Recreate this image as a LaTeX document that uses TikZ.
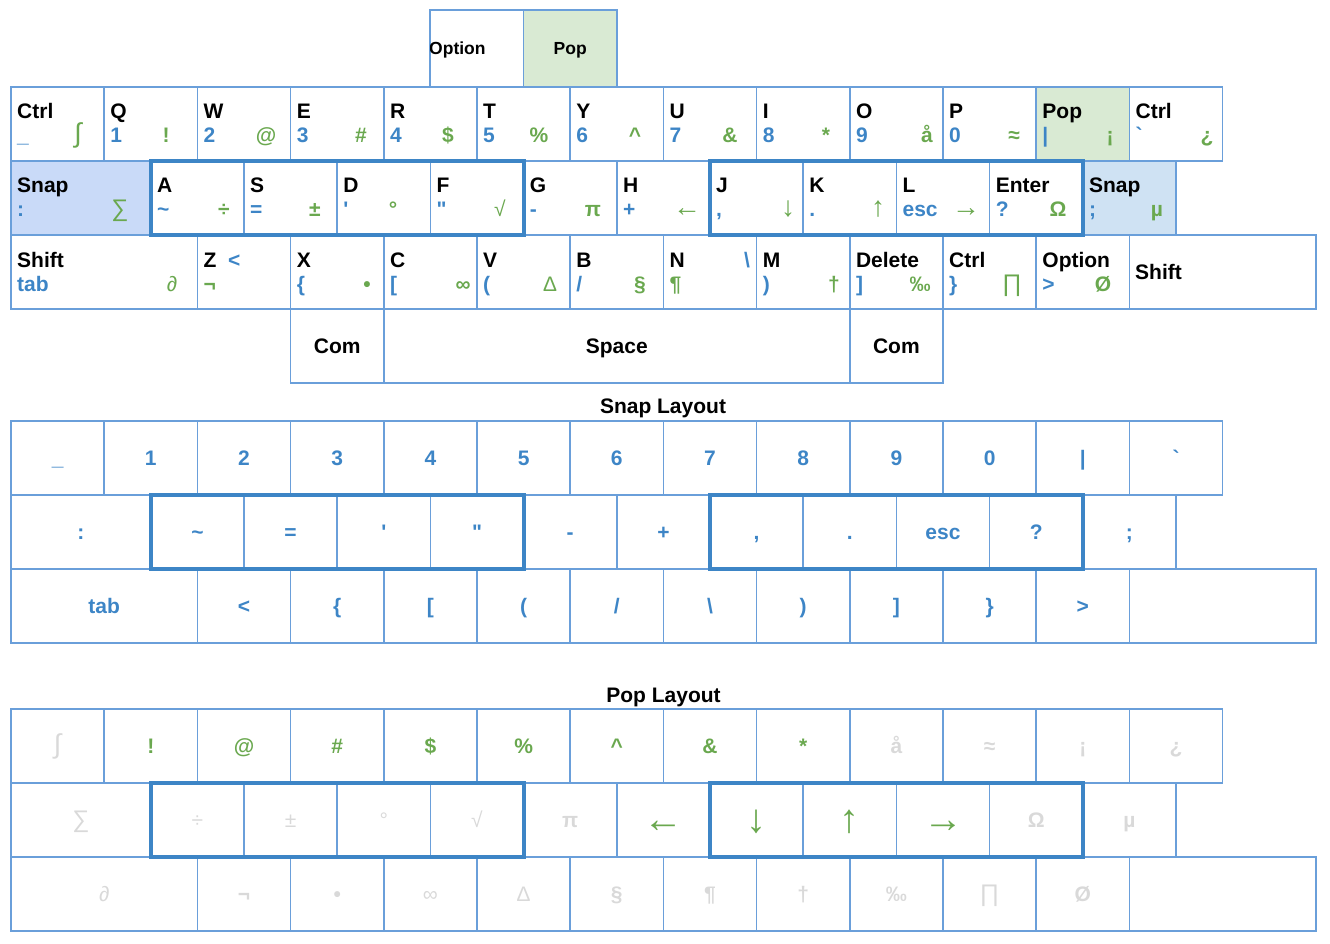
\documentclass[tikz,border=0pt]{standalone}
\usepackage{fontspec}
\setmainfont{Liberation Sans}[Ligatures=TeXOff]
\definecolor{kline}{HTML}{6A9FDA}
\definecolor{kframe}{HTML}{3D85C6}
\definecolor{kblue}{HTML}{3D85C6}
\definecolor{kgreen}{HTML}{6AA84F}
\definecolor{kgrey}{HTML}{D9D9D9}
\definecolor{popfill}{HTML}{D9EAD3}
\definecolor{snapA}{HTML}{C9DAF8}
\definecolor{snapB}{HTML}{CFE2F3}
\newcommand\lblfont{\bfseries\fontsize{21}{21}\selectfont}
\newcommand\smallfont{\bfseries\fontsize{17.5}{17.5}\selectfont}
\newcommand\arrowfont{\mdseries\fontsize{40}{40}\selectfont}
\newcommand\keyarrow{\mdseries\fontsize{28}{28}\selectfont}
\newcommand\bigint{\mdseries\fontsize{27}{27}\selectfont}
\tikzset{
  keybox/.style={draw=kline, line width=1.5pt, rectangle, inner sep=0pt, minimum height=74pt},
  mainlbl/.style={anchor=base west, inner sep=0pt, font=\lblfont, text=black},
  bluelbl/.style={anchor=base west, inner sep=0pt, font=\lblfont, text=kblue},
  greenlbl/.style={anchor=base, inner sep=0pt, font=\lblfont, text=kgreen},
  hlframe/.style={draw=kframe, line width=4pt, rectangle, inner sep=0pt, minimum height=74pt, minimum width=372.8pt},
  titlelbl/.style={anchor=base, inner sep=0pt, font=\lblfont, text=black},
  sn/.style={text=kblue},
  pg/.style={text=kgreen},
  pz/.style={text=kgrey},
  parrow/.style={text=kgreen, text height=24pt},
}
% top keyboard key: name, x, y0, width, options, main, blue, green, green centre x
\newcommand\tk[9]{%
  \node[keybox,minimum width=#4pt,#5] (#1) at ({#2+#4/2},{#3+37}) {};
  \node[mainlbl] (#1m) at ({#2+6},{#3+32}) {#6};
  \node[bluelbl] (#1b) at ({#2+6},{#3+56}) {#7};
  \node[greenlbl] (#1g) at (#9,{#3+56}) {#8};}
% layout key with centred text: name, x, y0, width, options, text
\newcommand\lc[6]{%
  \node[keybox,minimum width=#4pt,font=\lblfont,text height=15pt,text depth=0pt,#5] (#1) at ({#2+#4/2},{#3+37}) {#6};}
\begin{document}
\begin{tikzpicture}[x=1pt,y=-1pt]
\useasboundingbox (0,0) rectangle (1330,944);

% ---------- top small row ----------
\node[keybox,minimum width=93.2pt,minimum height=77pt] (topopt) at (477,48.5) {};
\node[anchor=base west,inner sep=0pt,font=\smallfont] (topoptl) at (429,55) {Option};
\node[keybox,minimum width=93.2pt,minimum height=77pt,fill=popfill] (toppop) at (570.2,48.5) {};
\node[anchor=base,inner sep=0pt,font=\smallfont] (toppopl) at (570.2,55) {Pop};
\draw[kline,line width=1.5pt] (topopt.north west) -- (topopt.south west);

% ---------- keyboard row 1 ----------
\tk{qa}{11}{87}{93.2}{}{Ctrl}{\_}{\bigint ∫}{78}
\tk{qb}{104.2}{87}{93.2}{}{Q}{1}{!}{166}
\tk{qc}{197.4}{87}{93.2}{}{W}{2}{@}{266}
\tk{qd}{290.6}{87}{93.2}{}{E}{3}{\#}{361}
\tk{qe}{383.8}{87}{93.2}{}{R}{4}{\$}{448}
\tk{qf}{477}{87}{93.2}{}{T}{5}{\%}{539}
\tk{qg}{570.2}{87}{93.2}{}{Y}{6}{\textasciicircum}{635}
\tk{qh}{663.4}{87}{93.2}{}{U}{7}{\&}{730}
\tk{qi}{756.6}{87}{93.2}{}{I}{8}{*}{826}
\tk{qj}{849.8}{87}{93.2}{}{O}{9}{å}{927}
\tk{qk}{943}{87}{93.2}{}{P}{0}{≈}{1014}
\tk{ql}{1036.2}{87}{93.2}{fill=popfill}{Pop}{|}{¡}{1110}
\tk{qm}{1129.4}{87}{93.2}{}{Ctrl}{`}{¿}{1207}

% ---------- keyboard row 2 ----------
\tk{aa}{11}{161}{139.8}{fill=snapA}{Snap}{:}{\mdseries\fontsize{24}{24}\selectfont ∑}{120}
\tk{ab}{150.8}{161}{93.2}{}{A}{\textasciitilde}{÷}{224}
\tk{ac}{244}{161}{93.2}{}{S}{=}{±}{315}
\tk{ad}{337.2}{161}{93.2}{}{D}{'}{°}{393}
\tk{ae}{430.4}{161}{93.2}{}{F}{"}{\mdseries √}{500}
\tk{af}{523.6}{161}{93.2}{}{G}{-}{π}{593}
\tk{ag}{616.8}{161}{93.2}{}{H}{+}{\keyarrow ←}{687}
\tk{ah}{710}{161}{93.2}{}{J}{,}{\keyarrow ↓}{788}
\tk{ai}{803.2}{161}{93.2}{}{K}{.}{\keyarrow ↑}{878}
\tk{aj}{896.4}{161}{93.2}{}{L}{esc}{\keyarrow →}{966}
\tk{ak}{989.6}{161}{93.2}{}{Enter}{?}{Ω}{1058}
\tk{al}{1082.8}{161}{93.2}{fill=snapB}{Snap}{;}{µ}{1157}

% ---------- keyboard row 3 ----------
\tk{za}{11}{235}{186.4}{}{Shift}{tab}{\mdseries ∂}{172}
\node[keybox,minimum width=93.2pt] (zb) at (244,272) {};
\node[mainlbl] (zbm) at (203.4,267) {Z};
\node[bluelbl] (zbb) at (228,267) {<};
\node[anchor=base west,inner sep=0pt,font=\lblfont,text=kgreen] (zbg) at (203.4,291) {¬};
\tk{zc}{290.6}{235}{93.2}{}{X}{\{}{•}{367}
\tk{zd}{383.8}{235}{93.2}{}{C}{[}{∞}{463}
\tk{ze}{477}{235}{93.2}{}{V}{(}{\mdseries ∆}{550}
\tk{zf}{570.2}{235}{93.2}{}{B}{/}{§}{640}
\node[keybox,minimum width=93.2pt] (zg) at (710,272) {};
\node[mainlbl] (zgm) at (669.4,267) {N};
\node[anchor=base,inner sep=0pt,font=\lblfont,text=kblue] (zgb) at (747,267) {\textbackslash};
\node[anchor=base west,inner sep=0pt,font=\lblfont,text=kgreen] (zgg) at (669.4,291) {¶};
\tk{zh}{756.6}{235}{93.2}{}{M}{)}{†}{834}
\tk{zi}{849.8}{235}{93.2}{}{Delete}{]}{‰}{920}
\tk{zj}{943}{235}{93.2}{}{Ctrl}{\}}{\mdseries\fontsize{24}{24}\selectfont ∏}{1012}
\tk{zk}{1036.2}{235}{93.2}{}{Option}{>}{Ø}{1103}
\node[keybox,minimum width=186.4pt] (zl) at (1222.6,272) {};
\node[mainlbl] (zlm) at (1135,279) {Shift};

% ---------- keyboard row 4 ----------
\lc{ca}{290.6}{309}{93.2}{}{Com}
\lc{cb}{383.8}{309}{466}{}{Space}
\lc{cc}{849.8}{309}{93.2}{}{Com}

\node[hlframe] (fr1) at (337.2,198) {};
\node[hlframe] (fr2) at (896.4,198) {};

% ---------- Snap layout ----------
\node[titlelbl] (snaptitle) at (663,413) {Snap Layout};
\lc{s1a}{11}{421}{93.2}{sn}{\_}
\lc{s1b}{104.2}{421}{93.2}{sn}{1}
\lc{s1c}{197.4}{421}{93.2}{sn}{2}
\lc{s1d}{290.6}{421}{93.2}{sn}{3}
\lc{s1e}{383.8}{421}{93.2}{sn}{4}
\lc{s1f}{477}{421}{93.2}{sn}{5}
\lc{s1g}{570.2}{421}{93.2}{sn}{6}
\lc{s1h}{663.4}{421}{93.2}{sn}{7}
\lc{s1i}{756.6}{421}{93.2}{sn}{8}
\lc{s1j}{849.8}{421}{93.2}{sn}{9}
\lc{s1k}{943}{421}{93.2}{sn}{0}
\lc{s1l}{1036.2}{421}{93.2}{sn}{|}
\lc{s1m}{1129.4}{421}{93.2}{sn}{`}

\lc{s2a}{11}{495}{139.8}{sn}{:}
\lc{s2b}{150.8}{495}{93.2}{sn}{\textasciitilde}
\lc{s2c}{244}{495}{93.2}{sn}{=}
\lc{s2d}{337.2}{495}{93.2}{sn}{'}
\lc{s2e}{430.4}{495}{93.2}{sn}{"}
\lc{s2f}{523.6}{495}{93.2}{sn}{-}
\lc{s2g}{616.8}{495}{93.2}{sn}{+}
\lc{s2h}{710}{495}{93.2}{sn}{,}
\lc{s2i}{803.2}{495}{93.2}{sn}{.}
\lc{s2j}{896.4}{495}{93.2}{sn}{esc}
\lc{s2k}{989.6}{495}{93.2}{sn}{?}
\lc{s2l}{1082.8}{495}{93.2}{sn}{;}

\lc{s3a}{11}{569}{186.4}{sn}{tab}
\lc{s3b}{197.4}{569}{93.2}{sn}{<}
\lc{s3c}{290.6}{569}{93.2}{sn}{\{}
\lc{s3d}{383.8}{569}{93.2}{sn}{[}
\lc{s3e}{477}{569}{93.2}{sn}{(}
\lc{s3f}{570.2}{569}{93.2}{sn}{/}
\lc{s3g}{663.4}{569}{93.2}{sn}{\textbackslash}
\lc{s3h}{756.6}{569}{93.2}{sn}{)}
\lc{s3i}{849.8}{569}{93.2}{sn}{]}
\lc{s3j}{943}{569}{93.2}{sn}{\}}
\lc{s3k}{1036.2}{569}{93.2}{sn}{>}
\lc{s3l}{1129.4}{569}{186.4}{sn}{}

\node[hlframe] (fr3) at (337.2,532) {};
\node[hlframe] (fr4) at (896.4,532) {};

% ---------- Pop layout ----------
\node[titlelbl] (poptitle) at (663.5,702) {Pop Layout};
\lc{p1a}{11}{709}{93.2}{pz}{\bigint ∫}
\lc{p1b}{104.2}{709}{93.2}{pg}{!}
\lc{p1c}{197.4}{709}{93.2}{pg}{@}
\lc{p1d}{290.6}{709}{93.2}{pg}{\#}
\lc{p1e}{383.8}{709}{93.2}{pg}{\$}
\lc{p1f}{477}{709}{93.2}{pg}{\%}
\lc{p1g}{570.2}{709}{93.2}{pg}{\textasciicircum}
\lc{p1h}{663.4}{709}{93.2}{pg}{\&}
\lc{p1i}{756.6}{709}{93.2}{pg}{*}
\lc{p1j}{849.8}{709}{93.2}{pz}{å}
\lc{p1k}{943}{709}{93.2}{pz}{≈}
\lc{p1l}{1036.2}{709}{93.2}{pz}{¡}
\lc{p1m}{1129.4}{709}{93.2}{pz}{¿}

\lc{p2a}{11}{783}{139.8}{pz}{\mdseries\fontsize{24}{24}\selectfont ∑}
\lc{p2b}{150.8}{783}{93.2}{pz}{\mdseries ÷}
\lc{p2c}{244}{783}{93.2}{pz}{\mdseries ±}
\lc{p2d}{337.2}{783}{93.2}{pz}{\mdseries °}
\lc{p2e}{430.4}{783}{93.2}{pz}{\mdseries √}
\lc{p2f}{523.6}{783}{93.2}{pz}{π}
\lc{p2g}{616.8}{783}{93.2}{parrow}{\arrowfont ←}
\lc{p2h}{710}{783}{93.2}{parrow}{\arrowfont ↓}
\lc{p2i}{803.2}{783}{93.2}{parrow}{\arrowfont ↑}
\lc{p2j}{896.4}{783}{93.2}{parrow}{\arrowfont →}
\lc{p2k}{989.6}{783}{93.2}{pz}{Ω}
\lc{p2l}{1082.8}{783}{93.2}{pz}{µ}

\lc{p3a}{11}{857}{186.4}{pz}{\mdseries ∂}
\lc{p3b}{197.4}{857}{93.2}{pz}{¬}
\lc{p3c}{290.6}{857}{93.2}{pz}{•}
\lc{p3d}{383.8}{857}{93.2}{pz}{\mdseries ∞}
\lc{p3e}{477}{857}{93.2}{pz}{\mdseries ∆}
\lc{p3f}{570.2}{857}{93.2}{pz}{§}
\lc{p3g}{663.4}{857}{93.2}{pz}{¶}
\lc{p3h}{756.6}{857}{93.2}{pz}{†}
\lc{p3i}{849.8}{857}{93.2}{pz}{‰}
\lc{p3j}{943}{857}{93.2}{pz}{\mdseries\fontsize{24}{24}\selectfont ∏}
\lc{p3k}{1036.2}{857}{93.2}{pz}{Ø}
\lc{p3l}{1129.4}{857}{186.4}{pz}{}

\node[hlframe] (fr5) at (337.2,820) {};
\node[hlframe] (fr6) at (896.4,820) {};
\end{tikzpicture}
\end{document}
